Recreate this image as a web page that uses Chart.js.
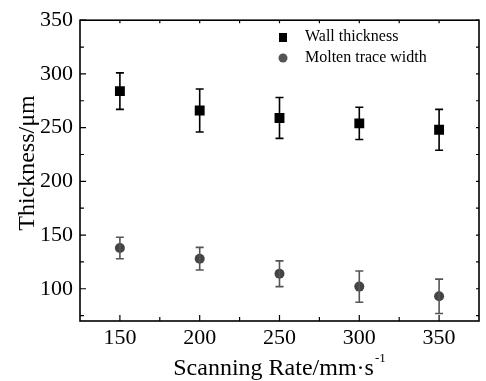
<!DOCTYPE html>
<html><head><meta charset="utf-8">
<script src="https://cdn.jsdelivr.net/npm/chart.js@4.4.1/dist/chart.umd.min.js"></script>
<style>html,body{margin:0;padding:0;background:#fff}#wrap{width:486px;height:381px}</style>
</head><body><div id="wrap"><canvas id="c" width="486" height="381"></canvas></div>
<script>
const scanRates = [150, 200, 250, 300, 350];
const wallThickness = [284, 266, 259, 254, 248];
const wallErr = [17, 20, 19, 15, 19];
const traceWidth = [138, 128, 114, 102, 93];
const traceErr = [10, 10.5, 12, 14.5, 16];
const xTicks = [150, 200, 250, 300, 350];
const yTicks = [100, 150, 200, 250, 300, 350];
const seriesNames = ['Wall thickness', 'Molten trace width'];
const xTitle = 'Scanning Rate/mm·s';
const xTitleSup = '-1';
const yTitle = 'Thickness/μm';

const FONT = "'Liberation Serif'";

const errorBars = {
  id: 'errorBars',
  afterDatasetsDraw(chart) {
    const ctx = chart.ctx, xs = chart.scales.x, ys = chart.scales.y;
    chart.data.datasets.forEach((ds) => {
      ctx.save();
      ctx.strokeStyle = ds.errColor; ctx.lineWidth = 1.6;
      ds.data.forEach((p) => {
        const x = xs.getPixelForValue(p.x);
        const y1 = ys.getPixelForValue(p.y + p.e), y2 = ys.getPixelForValue(p.y - p.e);
        ctx.beginPath();
        ctx.moveTo(x, y1); ctx.lineTo(x, y2);
        ctx.moveTo(x - 4, y1); ctx.lineTo(x + 4, y1);
        ctx.moveTo(x - 4, y2); ctx.lineTo(x + 4, y2);
        ctx.stroke();
      });
      ctx.restore();
    });
  }
};

const frame = {
  id: 'frame',
  afterDraw(chart) {
    const ctx = chart.ctx, a = chart.chartArea, xs = chart.scales.x, ys = chart.scales.y;
    ctx.save();
    ctx.strokeStyle = '#000'; ctx.lineWidth = 1.6;
    ctx.strokeRect(a.left, a.top, a.right - a.left, a.bottom - a.top);
    ctx.lineWidth = 1.2;
    ctx.beginPath();
    for (let v = 150; v <= 350; v += 25) {
      const x = xs.getPixelForValue(v);
      const major = v % 50 === 0;
      ctx.moveTo(x, a.bottom); ctx.lineTo(x, a.bottom - (major ? 6 : 4));
      ctx.moveTo(x, a.top); ctx.lineTo(x, a.top + 3);
    }
    for (let v = 75; v <= 350; v += 25) {
      const y = ys.getPixelForValue(v);
      const major = v % 50 === 0;
      ctx.moveTo(a.left, y); ctx.lineTo(a.left + (major ? 6 : 4), y);
      ctx.moveTo(a.right, y); ctx.lineTo(a.right - 3, y);
    }
    ctx.stroke();
    // legend
    ctx.fillStyle = '#000';
    ctx.fillRect(279, 33, 8, 9);
    ctx.fillStyle = '#555';
    ctx.beginPath(); ctx.arc(283, 58, 4.5, 0, Math.PI * 2); ctx.fill();
    ctx.fillStyle = '#000';
    ctx.font = '16px ' + FONT;
    ctx.textBaseline = 'middle';
    ctx.fillText(seriesNames[0], 305, 37);
    ctx.fillText(seriesNames[1], 305, 58);
    // x title with superscript
    ctx.font = '24px ' + FONT;
    ctx.textBaseline = 'alphabetic';
    const w = ctx.measureText(xTitle).width;
    ctx.font = '13px ' + FONT;
    const ws = ctx.measureText(xTitleSup).width;
    const x0 = (a.left + a.right) / 2 - (w + ws + 1) / 2;
    ctx.font = '24px ' + FONT;
    ctx.fillText(xTitle, x0, 375);
    ctx.font = '13px ' + FONT;
    ctx.fillText(xTitleSup, x0 + w + 1, 362);
    // y title
    ctx.font = '24px ' + FONT;
    ctx.translate(34, 163);
    ctx.rotate(-Math.PI / 2);
    ctx.textAlign = 'center';
    ctx.fillText(yTitle, 0, 0);
    ctx.restore();
  }
};

function build() {
  new Chart(document.getElementById('c'), {
    type: 'scatter',
    data: {
      datasets: [
        {
          label: seriesNames[0],
          data: scanRates.map((x, i) => ({ x, y: wallThickness[i], e: wallErr[i] })),
          pointStyle: 'rect', pointRadius: 7, backgroundColor: '#000', borderColor: '#000', borderWidth: 0,
          errColor: '#000'
        },
        {
          label: seriesNames[1],
          data: scanRates.map((x, i) => ({ x, y: traceWidth[i], e: traceErr[i] })),
          pointStyle: 'circle', pointRadius: 5, backgroundColor: '#444', borderColor: '#444', borderWidth: 0,
          errColor: '#555'
        }
      ]
    },
    options: {
      responsive: false, animation: false, devicePixelRatio: 1,
      layout: { padding: { top: 19, right: 1, left: 0, bottom: 0 } },
      plugins: { legend: { display: false }, tooltip: { enabled: false } },
      scales: {
        x: {
          type: 'linear', min: 125, max: 375,
          afterBuildTicks: (s) => { s.ticks = xTicks.map(v => ({ value: v })); },
          afterFit: (s) => { s.height = 60; },
          grid: { display: false, drawTicks: false },
          border: { display: false },
          ticks: { color: '#000', font: { family: FONT, size: 22 }, padding: 4, maxRotation: 0 }
        },
        y: {
          type: 'linear', min: 70, max: 350,
          afterBuildTicks: (s) => { s.ticks = yTicks.map(v => ({ value: v })); },
          afterFit: (s) => { s.width = 80; },
          grid: { display: false, drawTicks: false },
          border: { display: false },
          ticks: { color: '#000', font: { family: FONT, size: 22 }, padding: 7 }
        }
      }
    },
    plugins: [errorBars, frame]
  });
}
if (document.fonts && document.fonts.load) {
  Promise.all([document.fonts.load("22px 'Liberation Serif'"), document.fonts.load("16px 'Liberation Serif'")]).then(build, build);
} else { build(); }
</script></body></html>
